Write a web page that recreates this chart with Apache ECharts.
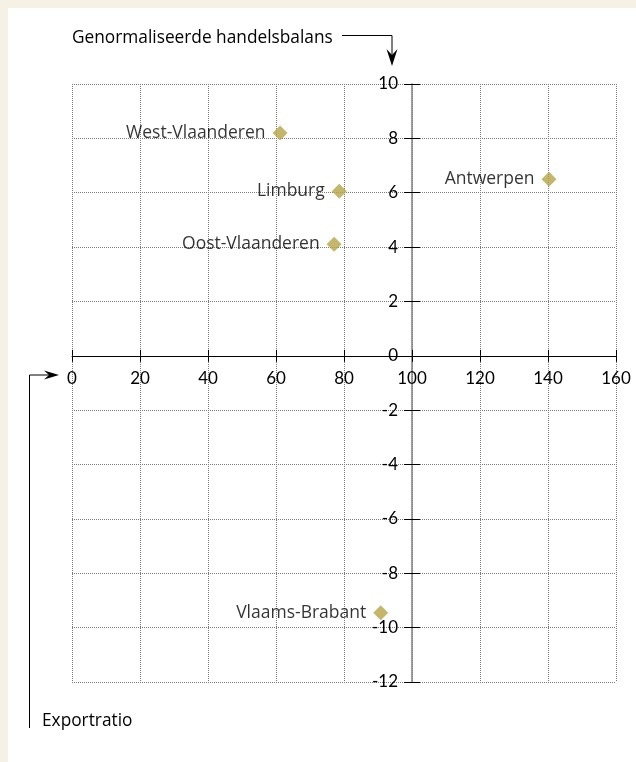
<!DOCTYPE html>
<html>
<head>
<meta charset="utf-8">
<script src="https://cdn.jsdelivr.net/npm/echarts@6/dist/echarts.min.js"></script>
<style>
  html, body { margin: 0; padding: 0; background: #f5f1e5; }
  #panel { position: absolute; left: 8px; top: 8px; width: 628px; height: 754px; background: #ffffff; }
  #chart { position: absolute; left: 0; top: 0; width: 636px; height: 762px; }
</style>
</head>
<body>
<div id="panel"></div>
<div id="chart"></div>
<script>
// ---- data ----
const regions = ['West-Vlaanderen', 'Limburg', 'Oost-Vlaanderen', 'Antwerpen', 'Vlaams-Brabant'];
const exportRatio = [61.2, 78.6, 77.1, 140.3, 90.8];
const handelsbalans = [8.2, 6.05, 4.1, 6.5, -9.45];
const xTicks = { min: 0, max: 160, interval: 20 };
const yTicks = { min: -12, max: 10, interval: 2 };
const yAxisCrossAt = 100;   // y-axis drawn at x = 100
const xAxisCrossAt = 0;     // x-axis drawn at y = 0
const xTitle = 'Exportratio';
const yTitle = 'Genormaliseerde handelsbalans';

const TICKFONT = 'Lato';
const TEXTFONT = 'Open Sans';

// grid layout
const G = { left: 72, right: 20, top: 84, bottom: 80 };
const W = 636, H = 762;
const gridW = W - G.left - G.right, gridH = H - G.top - G.bottom;
// offsets that place the axes where they cross
const yOffset = -gridW * (yAxisCrossAt - xTicks.min) / (xTicks.max - xTicks.min);
const xOffset = -gridH * (xAxisCrossAt - yTicks.min) / (yTicks.max - yTicks.min);

const chart = echarts.init(document.getElementById('chart'), null, { renderer: 'canvas' });

const gridLine = { show: true, lineStyle: { type: 'dotted', color: '#7a7a7a', width: 1 } };

function xAxisDef(primary) {
  return {
    type: 'value', min: xTicks.min, max: xTicks.max, interval: xTicks.interval,
    position: 'bottom', offset: xOffset,
    axisLine: { show: primary, onZero: false, lineStyle: { color: '#000', width: 1 } },
    axisTick: { show: true, inside: !primary, length: 6, lineStyle: { color: '#000' } },
    axisLabel: primary ? { margin: 14, fontSize: 17, color: '#000', fontFamily: TICKFONT } : { show: false },
    splitLine: primary ? gridLine : { show: false }
  };
}
function yAxisDef(primary) {
  return {
    type: 'value', min: yTicks.min, max: yTicks.max, interval: yTicks.interval,
    position: 'left', offset: yOffset,
    axisLine: { show: primary, onZero: false, lineStyle: { color: '#808080', width: 1.5 } },
    axisTick: { show: true, inside: !primary, length: 8, lineStyle: { color: '#000' } },
    axisLabel: primary ? { margin: 14, fontSize: 17, color: '#000', fontFamily: TICKFONT } : { show: false },
    splitLine: primary ? gridLine : { show: false }
  };
}

const option = {
  backgroundColor: 'transparent',
  animation: false,
  grid: { left: G.left, right: G.right, top: G.top, bottom: G.bottom, containLabel: false, outerBoundsMode: 'none' },
  xAxis: [xAxisDef(true), xAxisDef(false)],
  yAxis: [yAxisDef(true), yAxisDef(false)],
  series: [{
    type: 'scatter',
    xAxisIndex: 0, yAxisIndex: 0,
    symbol: 'diamond',
    symbolSize: 15,
    itemStyle: { color: '#b5a447' },
    label: {
      show: true, position: 'left', distance: 7, formatter: '{b}',
      fontSize: 17.5, color: '#000', fontFamily: TEXTFONT
    },
    data: regions.map((n, i) => ({ name: n, value: [exportRatio[i], handelsbalans[i]] }))
  }],
  graphic: [
    { type: 'text', left: 72, top: 30, style: { text: yTitle, fontSize: 17.3, fontFamily: TEXTFONT, fill: '#000' } },
    { type: 'polyline', shape: { points: [[342, 35.5], [392, 35.5], [392, 56]] }, style: { stroke: '#000', lineWidth: 1, fill: null } },
    { type: 'polygon', shape: { points: [[386.5, 49], [392, 55], [397.5, 49], [392, 66]] }, style: { fill: '#000' } },
    { type: 'text', left: 42, top: 713, style: { text: xTitle, fontSize: 17.3, fontFamily: TEXTFONT, fill: '#000' } },
    { type: 'polyline', shape: { points: [[29.5, 728], [29.5, 375], [50, 375]] }, style: { stroke: '#000', lineWidth: 1, fill: null } },
    { type: 'polygon', shape: { points: [[44, 370.5], [49, 375], [44, 379.5], [59, 375]] }, style: { fill: '#000' } }
  ]
};
chart.setOption(option);
</script>
</body>
</html>
